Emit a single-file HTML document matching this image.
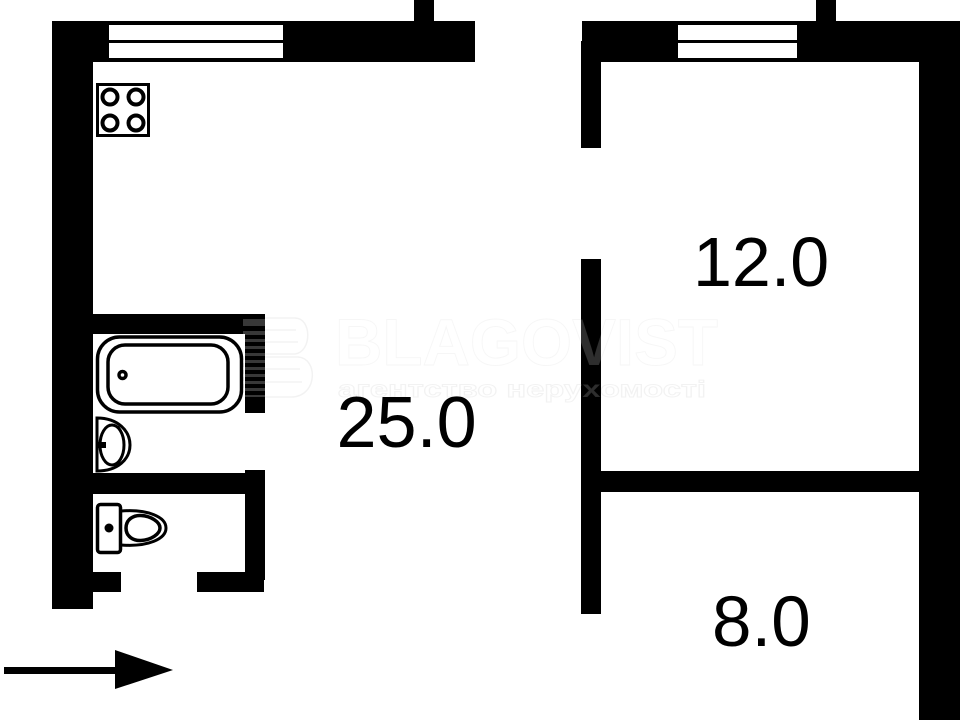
<!DOCTYPE html>
<html><head><meta charset="utf-8"><style>html,body{margin:0;padding:0;background:#fff;width:960px;height:720px;overflow:hidden}svg{display:block}</style></head>
<body>
<svg width="960" height="720" viewBox="0 0 960 720" xmlns="http://www.w3.org/2000/svg" font-family="'Liberation Sans',sans-serif">
<rect width="960" height="720" fill="#fff"/>
<!-- left unit walls -->
<g fill="#000">
<rect x="52" y="21" width="423" height="41"/>
<rect x="52" y="21" width="41" height="588"/>
<rect x="414" y="0" width="20" height="21"/>
<rect x="93" y="314" width="172" height="20"/>
<rect x="245" y="314" width="20" height="99"/>
<rect x="93" y="473" width="172" height="21"/>
<rect x="245" y="470" width="20" height="110"/>
<rect x="197" y="572" width="67" height="20"/>
<rect x="93" y="572" width="28" height="20"/>
<!-- right unit walls -->
<rect x="582" y="21" width="378" height="41"/>
<rect x="816" y="0" width="20" height="21"/>
<rect x="581" y="41" width="20" height="107"/>
<rect x="919" y="62" width="41" height="658"/>
<rect x="581" y="259" width="20" height="355"/>
<rect x="601" y="471" width="318" height="21"/>
</g>
<!-- windows -->
<g fill="#fff">
<rect x="109" y="25" width="174" height="15"/>
<rect x="109" y="43" width="174" height="15"/>
<rect x="678" y="25" width="119" height="15"/>
<rect x="678" y="43" width="119" height="15"/>
</g>
<!-- stove -->
<g fill="none" stroke="#000" stroke-width="4">
<rect x="97.500" y="84.500" width="51" height="51" stroke-width="3"/>
<circle cx="110" cy="97" r="7.500"/>
<circle cx="136" cy="97" r="7.500"/>
<circle cx="110" cy="123" r="7.500"/>
<circle cx="136" cy="123" r="7.500"/>
</g>
<!-- bath -->
<g fill="none" stroke="#000" stroke-width="3.500">
<rect x="97.500" y="337" width="144" height="75" rx="22"/>
<rect x="108" y="345" width="120" height="59" rx="17"/>
<circle cx="122.500" cy="375" r="3.500"/>
</g>
<!-- sink -->
<g fill="none" stroke="#000">
<path d="M97 418 C118 418 130 431 130 445 C130 459 118 471 97 471 Z" stroke-width="3"/>
<ellipse cx="112" cy="445" rx="12" ry="20" stroke-width="3"/>
<path d="M118 426 C126 435 126 455 118 464" stroke-width="1.500"/>
</g>
<rect x="97" y="442" width="9" height="6" fill="#000"/>
<!-- toilet -->
<g fill="none" stroke="#000" stroke-width="3.500">
<rect x="97.500" y="504.500" width="23" height="48" rx="3"/>
<path d="M121 511 C148 509 166 517 166 528 C166 539 148 547 121 545" stroke-width="3"/>
<path d="M126 528 C126 519 134 515 141 515.500 C151 516 160 522 160 528 C160 534 151 540 141 540.500 C134 541 126 537 126 528 Z"/>
</g>
<circle cx="109" cy="528" r="4.500" fill="#000"/>
<!-- arrow -->
<rect x="4" y="667" width="112" height="7" fill="#000"/>
<polygon points="115,650 173,670 115,689" fill="#000"/>
<!-- watermark -->
<g>
<text x="335" y="365" font-size="66" font-weight="bold" textLength="383" lengthAdjust="spacingAndGlyphs" fill="#fff" fill-opacity=".18" stroke="#000" stroke-opacity=".035" stroke-width="1">BLAGOVIST</text>
<text x="338" y="397" font-size="23" font-weight="bold" textLength="368" lengthAdjust="spacingAndGlyphs" fill="#fff" fill-opacity=".18" stroke="#000" stroke-opacity=".05" stroke-width="1" font-family="'Liberation Sans','Noto Sans CJK SC',sans-serif">агентство нерухомості</text>
</g>
<!-- logo stripes -->
<g fill="#fff" fill-opacity=".22">
<rect x="243" y="319" width="22" height="7"/><rect x="243" y="331" width="22" height="4"/>
<rect x="243" y="339" width="22" height="3"/><rect x="243" y="346" width="22" height="3"/>
<rect x="243" y="353" width="22" height="3"/><rect x="243" y="360" width="22" height="3"/>
<rect x="243" y="367" width="22" height="3"/><rect x="243" y="374" width="22" height="3"/>
<rect x="243" y="381" width="22" height="3"/><rect x="243" y="388" width="22" height="3"/><rect x="243" y="395" width="22" height="2"/>
</g>
<g fill="none" stroke="#000" stroke-opacity=".05" stroke-width="1.500">
<path d="M265 318 H295 C312 318 312 352 295 354 H265"/>
<path d="M265 357 H298 C318 358 318 396 292 397 H265"/>
<path d="M265 330 H296 M265 342 H298 M265 369 H300 M265 382 H302"/>
</g>
<!-- labels -->
<g fill="#000">
<text x="693" y="286" font-size="70">12.0</text>
<text x="336.500" y="447" font-size="72">25.0</text>
<text x="712" y="646" font-size="71">8.0</text>
</g>
</svg>
</body></html>
